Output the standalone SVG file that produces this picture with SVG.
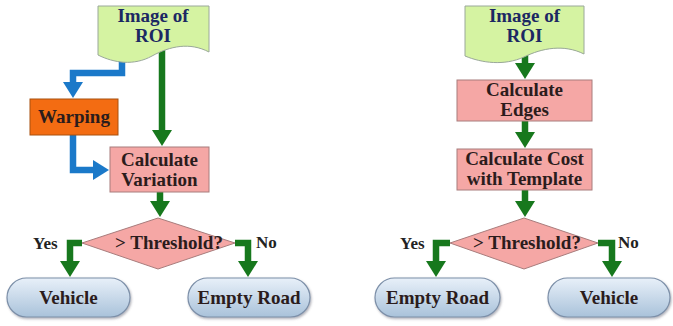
<svg xmlns="http://www.w3.org/2000/svg" width="673" height="326" viewBox="0 0 673 326">
<defs>
<linearGradient id="stad" x1="0" y1="0" x2="0" y2="1">
<stop offset="0" stop-color="#e8f0f9"/>
<stop offset="1" stop-color="#a9c2da"/>
</linearGradient>
<filter id="sh" x="-10%" y="-10%" width="120%" height="130%">
<feDropShadow dx="1" dy="1.5" stdDeviation="1" flood-color="#556" flood-opacity="0.45"/>
</filter>
<marker id="ag" viewBox="0 -10 16 20" refX="1" refY="0" markerWidth="16" markerHeight="20" markerUnits="userSpaceOnUse" orient="auto">
<path d="M0,-10 L16,0 L0,10 Z" fill="#17781d"/>
</marker>
<marker id="ab" viewBox="0 -10 16 20" refX="1" refY="0" markerWidth="16" markerHeight="20" markerUnits="userSpaceOnUse" orient="auto">
<path d="M0,-10 L16,0 L0,10 Z" fill="#1b79c9"/>
</marker>
</defs>
<style>
text{font-family:Liberation Serif,DejaVu Serif,serif;font-weight:bold;text-anchor:middle;}
.t{font-size:19px;fill:#2b1c1c;}
.d{font-size:19px;fill:#1c2863;}
.l{font-size:17px;fill:#222;text-anchor:start;}
.doc{fill:#d5f3a2;stroke:#9aa89a;stroke-width:1;}
.proc{fill:#f5a7a5;stroke:#a87c7c;stroke-width:1;}
.warp{fill:#f36c12;stroke:#a8500f;stroke-width:1;}
.st{fill:url(#stad);stroke:#7c8fa8;stroke-width:1.2;filter:url(#sh);}
.g{fill:none;stroke:#17781d;stroke-width:6.5;marker-end:url(#ag);}
.b{fill:none;stroke:#1b79c9;stroke-width:6.5;marker-end:url(#ab);}
</style>

<g id="connectors">
<path class="b" d="M122,56 V73 H73 V83"/>
<path class="b" d="M73,135 V170 H94"/>
<path class="g" d="M162,50 V131"/>
<path class="g" d="M160,192 V202"/>
<path class="g" d="M82,243 H70 V262"/>
<path class="g" d="M235,243 H248 V262"/>
<path class="g" d="M525,54 V64"/>
<path class="g" d="M525,121 V133"/>
<path class="g" d="M525,190 V202"/>
<path class="g" d="M450,243 H436 V262"/>
<path class="g" d="M598,243 H612 V262"/>
</g>

<g id="l-image">
<path class="doc" d="M98,6 H209 V52 C190,42 170,46 152,56 C134,66 114,63 98,55 Z"/>
<text class="d" x="153" y="22">Image of</text>
<text class="d" x="153" y="42">ROI</text>
</g>
<g id="l-warping">
<rect class="warp" x="30" y="99" width="88" height="36"/>
<text class="t" x="74" y="123">Warping</text>
</g>
<g id="l-variation">
<rect class="proc" x="110" y="147" width="99" height="45"/>
<text class="t" x="159.5" y="166">Calculate</text>
<text class="t" x="159.5" y="186">Variation</text>
</g>
<g id="l-threshold">
<path class="proc" d="M82,243 L158,218 L235,243 L158,269 Z"/>
<text class="t" x="169" y="249">&gt; Threshold?</text>
</g>
<g id="l-vehicle">
<rect class="st" x="7" y="278" width="123" height="39" rx="19.5"/>
<text class="t" x="68.5" y="304">Vehicle</text>
</g>
<g id="l-empty">
<rect class="st" x="188" y="278" width="122" height="39" rx="19.5"/>
<text class="t" x="249" y="304">Empty Road</text>
</g>
<g id="l-labels">
<text class="l" x="33" y="249">Yes</text>
<text class="l" x="256" y="248">No</text>
</g>

<g id="r-image">
<path class="doc" d="M465,6 H584 V54 C564,44 542,48 524,57 C504,66 482,63 465,56 Z"/>
<text class="d" x="524.5" y="22">Image of</text>
<text class="d" x="524.5" y="42">ROI</text>
</g>
<g id="r-edges">
<rect class="proc" x="457" y="80" width="135" height="41"/>
<text class="t" x="524.5" y="96">Calculate</text>
<text class="t" x="524.5" y="116">Edges</text>
</g>
<g id="r-cost">
<rect class="proc" x="457" y="149" width="135" height="41"/>
<text class="t" x="524.5" y="165">Calculate Cost</text>
<text class="t" x="524.5" y="185">with Template</text>
</g>
<g id="r-threshold">
<path class="proc" d="M450,243 L524,218 L598,243 L524,269 Z"/>
<text class="t" x="527" y="249">&gt; Threshold?</text>
</g>
<g id="r-empty">
<rect class="st" x="375" y="278" width="125" height="39" rx="19.5"/>
<text class="t" x="437.5" y="304">Empty Road</text>
</g>
<g id="r-vehicle">
<rect class="st" x="548" y="278" width="122" height="39" rx="19.5"/>
<text class="t" x="609" y="304">Vehicle</text>
</g>
<g id="r-labels">
<text class="l" x="400" y="249">Yes</text>
<text class="l" x="618" y="248">No</text>
</g>
</svg>
